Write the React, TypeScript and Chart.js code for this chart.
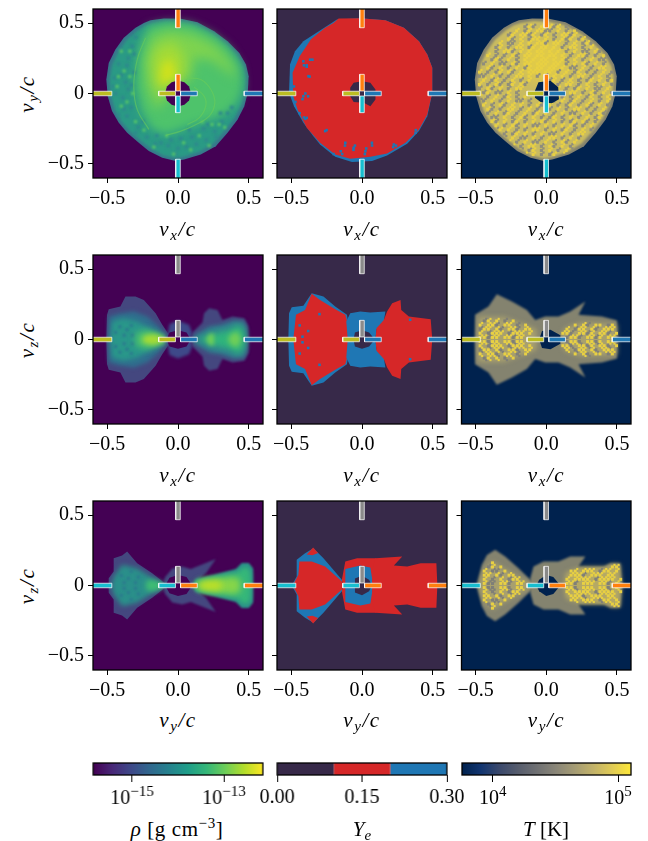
import React, { useEffect, useRef } from "react";
import { Chart, registerables } from "chart.js";

// Per-dataset softening so stacked density levels read as a smooth field.
const softLayers = {
  id: "softLayers",
  beforeDatasetDraw(chart: any, args: any) {
    const b = chart.data.datasets[args.index].blur;
    if (b) chart.ctx.filter = `blur(${b}px)`;
  },
  afterDatasetDraw(chart: any) {
    chart.ctx.filter = "none";
  },
};
Chart.register(softLayers, ...registerables);

type P = number[];
const FONT = "'Liberation Serif', serif";

// ---- axes
const axisRange = [-0.6, 0.6];
const panelTicks = [-0.5, 0, 0.5];
const xTickLabels = ["\u22120.5", "0.0", "0.5"];
const yTickLabels = ["\u22120.5", "0", "0.5"];
const rhoTickExps = [-15, -13];
const rhoRange = [-15.85, -12.15];
const yeTicks = [0, 0.15, 0.3];
const tempTickExps = [4, 5];
const tempRange = [3.754, 5.103];

// ---- palette
const viridisStops = ["#440154","#482878","#3e4989","#31688e","#26828e","#1f9e89","#35b779","#6ece58","#b5de2b","#fde725"];
const cividisStops = ["#00224e","#123570","#3b496c","#575d6d","#707173","#8a8678","#a59c74","#c3b369","#e1cc55","#fee838"];
const yeBands: number[][] = [[0, 0.1], [0.1, 0.2], [0.2, 0.3]];
const yeColors = ["#372949", "#d62728", "#1f77b4"];

// ---- marker arms along the axes
const armBands = [[0.018, 0.136], [0.467, 0.62]];
const armHalfWidth = 0.016;
const OLIVE = "#bcbd22", BLUE = "#1f77b4", ORANGE = "#ff7f0e", CYAN = "#17becf", GRAY = "#8a8a8a";

// ---- density, x-y plane
const rhoXYRim: P[] = [[-0.194,0.52],[-0.1,0.532],[0.02,0.53],[0.137,0.506],[0.255,0.442],[0.35,0.371],[0.433,0.288],[0.48,0.206],[0.499,0.123],[0.492,0.005],[0.468,-0.09],[0.421,-0.184],[0.35,-0.279],[0.267,-0.374],[0.161,-0.433],[0.043,-0.468],[-0.017,-0.48],[-0.111,-0.456],[-0.206,-0.409],[-0.277,-0.35],[-0.359,-0.279],[-0.418,-0.208],[-0.466,-0.125],[-0.496,-0.019],[-0.506,0.099],[-0.489,0.217],[-0.442,0.312],[-0.383,0.395],[-0.3,0.466],[-0.241,0.501]];
const rhoXYBody: P[] = [[-0.18,0.5],[-0.09,0.515],[0.02,0.51],[0.13,0.485],[0.245,0.425],[0.335,0.355],[0.415,0.275],[0.46,0.195],[0.478,0.12],[0.47,0.005],[0.445,-0.085],[0.4,-0.175],[0.33,-0.265],[0.25,-0.355],[0.15,-0.415],[0.04,-0.45],[-0.02,-0.46],[-0.105,-0.44],[-0.195,-0.39],[-0.265,-0.335],[-0.34,-0.27],[-0.4,-0.2],[-0.445,-0.12],[-0.475,-0.015],[-0.485,0.095],[-0.465,0.205],[-0.42,0.3],[-0.365,0.38],[-0.285,0.45],[-0.23,0.485]];
const rhoXYGreen: P[] = [[-0.206,0.478],[-0.076,0.506],[0.09,0.496],[0.243,0.423],[0.362,0.324],[0.444,0.194],[0.463,0.052],[0.421,-0.066],[0.326,-0.149],[0.232,-0.184],[0.113,-0.22],[-0.005,-0.267],[-0.099,-0.291],[-0.194,-0.243],[-0.265,-0.113],[-0.3,0.052],[-0.288,0.241],[-0.253,0.383]];
const rhoXYLight: P[] = [[-0.182,0.407],[-0.052,0.449],[0.113,0.418],[0.255,0.348],[0.374,0.217],[0.421,0.111],[0.35,0.158],[0.232,0.241],[0.113,0.253],[0.09,0.099],[0,0.087],[-0.087,-0.043],[-0.158,-0.113],[-0.217,0.052],[-0.229,0.241]];
const rhoXYBright: P[] = [[-0.158,0.312],[-0.04,0.371],[0.043,0.265],[0.043,0.111],[-0.052,0.099],[-0.111,0.005],[-0.165,0.076],[-0.182,0.217]];
const rhoXYCore: P[] = [[-0.111,0.217],[-0.04,0.241],[-0.005,0.099],[-0.071,0.092],[-0.104,0.04],[-0.128,0.111]];
const rhoXYHole: P[] = [[0.092,0],[0.078,0.05],[0.045,0.08],[0,0.092],[-0.045,0.08],[-0.078,0.05],[-0.092,0],[-0.078,-0.05],[-0.045,-0.08],[0,-0.092],[0.045,-0.08],[0.078,-0.05]];
const rhoXYArcs: P[][] = [
  [[0.066,0.111],[0.161,0.099],[0.232,0.028],[0.26,-0.066],[0.22,-0.161],[0.113,-0.227],[0.019,-0.267],[-0.087,-0.298]],
  [[0.113,0.047],[0.184,-0.019],[0.196,-0.09],[0.149,-0.173],[0.066,-0.22]],
  [[-0.229,0.395],[-0.288,0.241],[-0.312,0.052],[-0.288,-0.113],[-0.206,-0.255]],
];
const rhoXYDarkSpots: P[] = [[-0.324,0.336],[-0.31,0.28],[-0.36,0.2],[-0.42,0.21],[-0.4,0.13],[-0.45,0.11],[-0.37,0.08],[-0.35,0.03],[-0.44,0],[-0.39,-0.03],[-0.33,-0.1],[-0.38,-0.11],[-0.42,-0.15],[-0.31,0.15],[-0.35,0.25],[-0.3,0.4],[-0.12,-0.35],[-0.07,-0.37],[0,-0.39],[0.06,-0.38],[0.13,-0.36],[0.2,-0.33],[0.26,-0.27],[0.31,-0.2],[0.27,-0.31],[0.18,-0.25],[0.1,-0.31],[0.02,-0.32],[-0.05,-0.33],[-0.15,-0.3],[-0.22,-0.31],[-0.28,-0.24],[-0.3,-0.28],[0.35,-0.14],[0.38,-0.1],[0.3,-0.14],[-0.41,0.31],[-0.46,0.05],[-0.33,0.06],[-0.36,-0.16],[-0.25,-0.2],[0.08,-0.26],[0.21,-0.22],[-0.02,-0.43],[-0.16,-0.36]];
const rhoXYLightSpots: P[] = [[-0.4,0.3],[-0.43,0.05],[-0.36,-0.06],[-0.32,0],[-0.38,0.16],[-0.34,0.12],[-0.3,-0.2],[-0.17,-0.38],[-0.03,-0.43],[0.09,-0.4],[0.22,-0.37],[0.24,-0.22],[0.33,-0.24],[0.15,-0.3],[-0.08,-0.3],[-0.24,-0.26],[-0.34,0.3],[-0.42,0.12],[-0.4,-0.09],[0.04,-0.35],[0.17,-0.2],[0.29,-0.22]];

// ---- density, x-z plane (upper half, mirrored about z = 0)
const rhoXZLeft: P[] = [[-0.506,0],[-0.501,0.175],[-0.489,0.215],[-0.407,0.234],[-0.371,0.305],[-0.3,0.305],[-0.241,0.281],[-0.158,0.187],[-0.111,0.104],[-0.071,0.045],[-0.064,0]];
const rhoXZLeftMid: P[] = [[-0.489,0],[-0.489,0.163],[-0.407,0.187],[-0.312,0.199],[-0.217,0.163],[-0.135,0.092],[-0.087,0.033],[-0.08,0]];
const rhoXZLeftTeal: P[] = [[-0.478,0],[-0.466,0.128],[-0.383,0.151],[-0.288,0.128],[-0.182,0.069],[-0.099,0.017],[-0.087,0]];
const rhoXZLeftGreen: P[] = [[-0.3,0],[-0.3,0.045],[-0.217,0.069],[-0.123,0.033],[-0.08,0]];
const rhoXZLeftBright: P[] = [[-0.253,0],[-0.241,0.026],[-0.17,0.04],[-0.104,0.017],[-0.087,0]];
const rhoXZCentre: P[] = [[-0.08,0],[-0.06,0.11],[0,0.135],[0.078,0.104],[0.102,0.045],[0.09,0]];
const rhoXZHole: P[] = [[-0.08,0],[-0.06,0.05],[0,0.065],[0.06,0.05],[0.09,0]];
const rhoXZRight: P[] = [[0.09,0],[0.102,0.05],[0.173,0.121],[0.184,0.187],[0.22,0.222],[0.279,0.21],[0.314,0.139],[0.385,0.163],[0.468,0.151],[0.496,0.092],[0.499,0]];
const rhoXZRightMid: P[] = [[0.102,0],[0.125,0.033],[0.22,0.092],[0.303,0.104],[0.397,0.135],[0.468,0.128],[0.487,0.069],[0.487,0]];
const rhoXZRightGreen: P[] = [[0.125,0],[0.255,0.045],[0.362,0.069],[0.421,0.104],[0.463,0.08],[0.48,0]];
const rhoXZRightLight: P[] = [[0.35,0],[0.374,0.04],[0.421,0.057],[0.449,0]];
const rhoXZRightBand: P[] = [[0.196,0],[0.22,0.04],[0.255,0.04],[0.255,0]];
const rhoXZSpots: P[] = [[-0.36,0.07],[-0.33,0.1],[-0.38,0.03],[-0.32,0.03],[-0.41,0.09],[-0.44,0.05],[-0.36,-0.07],[-0.33,-0.1],[-0.38,-0.03],[-0.32,-0.03],[-0.41,-0.09],[-0.44,-0.05]];

// ---- density, y-z plane (upper half, mirrored)
const rhoYZLeft: P[] = [[-0.489,0],[-0.489,0.052],[-0.454,0.099],[-0.454,0.194],[-0.395,0.213],[-0.359,0.241],[-0.288,0.158],[-0.182,0.087],[-0.095,0.017],[-0.087,0]];
const rhoYZLeftTeal: P[] = [[-0.473,0],[-0.454,0.064],[-0.395,0.147],[-0.288,0.123],[-0.194,0.064],[-0.099,0.009],[-0.095,0]];
const rhoYZLeftGreen: P[] = [[-0.229,0],[-0.217,0.04],[-0.147,0.033],[-0.099,0.005],[-0.09,0]];
const rhoYZSpots: P[] = [[-0.35,0.05],[-0.3,0.02],[-0.28,0.06],[-0.33,0.1],[-0.38,0.02],[-0.4,0.07],[-0.35,-0.05],[-0.3,-0.02],[-0.28,-0.06],[-0.33,-0.1],[-0.38,-0.02],[-0.4,-0.07]];
const rhoYZWings: P[] = [[-0.1,0],[-0.095,0.055],[-0.04,0.12],[0.03,0.135],[0.09,0.118],[0.267,0.189],[0.2,0.09],[0.1,0]];
const rhoYZRightRim: P[] = [[0.1,0],[0.125,0.047],[0.255,0.076],[0.41,0.118],[0.45,0.16],[0.5,0.16],[0.53,0.12],[0.53,0]];
const rhoYZRightGreen: P[] = [[0.11,0],[0.14,0.04],[0.26,0.06],[0.41,0.09],[0.46,0.13],[0.5,0.13],[0.515,0.08],[0.515,0]];
const rhoYZRightLight: P[] = [[0.12,0],[0.16,0.035],[0.27,0.05],[0.4,0.06],[0.44,0.04],[0.44,0]];
const rhoYZRightBright: P[] = [[0.13,0],[0.19,0.03],[0.28,0.035],[0.32,0]];
const rhoYZHole: P[] = [[-0.09,0],[-0.06,0.055],[0,0.075],[0.06,0.06],[0.1,0]];

// ---- electron fraction
const yeXYBlue: P[] = [[-0.177,0.525],[-0.414,0.371],[-0.473,0.3],[-0.508,0.206],[-0.515,0.005],[-0.48,-0.09],[-0.414,-0.208],[-0.343,-0.303],[-0.296,-0.362],[-0.189,-0.449],[-0.071,-0.487],[0.071,-0.48],[0.177,-0.44],[0.319,-0.357],[0.402,-0.267],[0.461,-0.161],[0.496,0.005],[0.496,0.182],[0.461,0.277],[0.402,0.371],[0.296,0.466],[0.165,0.52],[-0.012,0.534]];
const yeXYRed: P[] = [[-0.165,0.532],[-0.012,0.534],[0.165,0.52],[0.296,0.466],[0.402,0.371],[0.461,0.277],[0.496,0.182],[0.496,0.005],[0.461,-0.149],[0.402,-0.255],[0.307,-0.35],[0.177,-0.426],[0.059,-0.449],[-0.083,-0.463],[-0.189,-0.433],[-0.296,-0.35],[-0.39,-0.243],[-0.455,-0.113],[-0.485,-0.019],[-0.49,0.147],[-0.44,0.265],[-0.36,0.385],[-0.26,0.466],[-0.201,0.501]];
const yeXYHole: P[] = [[-0.083,0.04],[-0.059,0.076],[0,0.087],[0.059,0.076],[0.095,0.028],[0.095,-0.043],[0.059,-0.09],[0.012,-0.066],[-0.059,-0.061],[-0.083,-0.019]];
const yeXYSpots: P[] = [[-0.414,0.229],[-0.378,0.123],[-0.414,-0.019],[-0.39,-0.173],[-0.26,-0.267],[-0.118,-0.35],[-0.059,-0.385],[0.024,-0.41],[0.071,-0.369],[0.225,-0.362],[0.378,-0.279],[-0.39,0.19],[-0.366,0.24],[-0.37,0.12],[-0.4,0],[-0.42,-0.04],[-0.38,-0.02],[-0.39,0.2],[-0.41,0.2],[-0.35,0.24],[-0.4,-0.18],[-0.41,-0.17],[-0.25,-0.26],[-0.12,-0.37],[-0.06,-0.4],[-0.05,-0.37],[0.03,-0.39],[0.02,-0.43],[0.07,-0.35],[0.22,-0.38],[0.24,-0.37],[0.38,-0.26],[-0.2,-0.43],[-0.15,-0.41],[-0.14,-0.43],[-0.49,0.18],[-0.47,0.25],[-0.44,0.29],[-0.48,0.05],[-0.47,-0.06],[-0.44,-0.14]];
const yeXZLeftBlue: P[] = [[-0.52,0],[-0.515,0.187],[-0.496,0.229],[-0.414,0.239],[-0.355,0.329],[-0.272,0.305],[-0.189,0.234],[-0.106,0.175],[-0.083,0.009],[-0.083,0]];
const yeXZLeftRed: P[] = [[-0.485,0],[-0.466,0.175],[-0.402,0.21],[-0.355,0.324],[-0.296,0.281],[-0.189,0.215],[-0.118,0.175],[-0.083,0.045],[-0.071,0]];
const yeXZCentreBlue: P[] = [[-0.102,0],[-0.102,0.017],[-0.111,0.128],[-0.083,0.187],[-0.012,0.199],[0.059,0.191],[0.165,0.199],[0.154,0.128],[0.102,0.069],[0.095,0]];
const yeXZHole: P[] = [[-0.06,0],[-0.05,0.05],[0,0.065],[0.05,0.05],[0.09,0]];
const yeXZRightRed: P[] = [[0.095,0],[0.102,0.08],[0.154,0.139],[0.177,0.199],[0.213,0.258],[0.272,0.281],[0.277,0.21],[0.331,0.163],[0.485,0.144],[0.496,0]];
const yeXZSpots: P[] = [[-0.44,0.1],[-0.42,0.02],[-0.44,-0.1],[-0.42,-0.02],[-0.38,0.06],[-0.38,-0.06],[-0.3,0.18],[-0.3,-0.18],[0.34,0.14],[0.34,-0.14]];
const yeYZLeftBlue: P[] = [[-0.496,0],[-0.461,0.064],[-0.461,0.182],[-0.402,0.229],[-0.343,0.265],[-0.272,0.194],[-0.142,0.04],[-0.135,0]];
const yeYZLeftRed: P[] = [[-0.489,0],[-0.449,0.076],[-0.442,0.17],[-0.355,0.17],[-0.26,0.135],[-0.142,0.028],[-0.135,0]];
const yeYZCap: P[] = [[-0.39,0.22],[-0.345,0.27],[-0.31,0.23],[-0.35,0.215]];
const yeYZCentreRed: P[] = [[-0.135,0],[-0.142,0.04],[-0.118,0.17],[-0.035,0.194],[0.1,0.194],[0.1,0]];
const yeYZCentreBlue: P[] = [[-0.118,0],[-0.118,0.118],[-0.012,0.142],[0.059,0.128],[0.071,0.052],[0.071,0]];
const yeYZHole: P[] = [[-0.05,0],[-0.05,0.05],[0,0.07],[0.05,0.04],[0.07,0]];
const yeYZRightRed: P[] = [[0.059,0],[0.071,0.111],[0.095,0.194],[0.284,0.206],[0.225,0.142],[0.319,0.135],[0.414,0.158],[0.525,0.158],[0.532,0]];

// ---- temperature
const tXYWarm: P[] = [[-0.12,0.36],[0.1,0.37],[0.17,0.16],[0.05,0.09],[-0.1,0.09],[-0.19,0.2]];
const tXYHole: P[] = [[-0.08,0.02],[-0.055,0.08],[0.03,0.09],[0.085,0.045],[0.09,-0.04],[0.04,-0.07],[-0.04,-0.06],[-0.08,-0.03]];
const tXYSpeckle = [
  "gyg.yyygy.g",
  "y.gy.yygg.y.g.y",
  "gy.yygy.gy.g.yygy.g",
  ".yg.y.gyy.y.g.ygy.gy.",
  "y.gg.y.y.yyg.yy.g.y.gyg",
  "gy.g.yy.gy.yy.y.g.yy.g.y.",
  ".g.yyg.y.y.yy.y.y.g.y.gg.yg",
  "y.g.g.yg.yy.yy.yy.y.g.yyg.g.y",
  ".gyg.y.g.y.y.yy.y.yg.y.g.y.gg",
  "g.y.gg.yg.yy.yyy.yy.g.y.yg.y.g.",
  ".yg.y.g.y.gy.yy.yy.y.gg.y.g.yy.",
  "y.g.gy.yg.y.yyy.yy.g.y.gy.g.g.y.g",
  "gg.y.g.g.yy.y.g.g.y.y.g.yy.g.y.g.",
  ".y.gy.g.y.g.y....gy.g.y.g.gy.y.gy",
  "y.g.yg.gy.yg.....y.g.yy.g.y.g.y.g",
  "g.yg.y.g.yy......g.y.g.gy.y.gg.y.",
  ".gy.gg.y.g........y.g.yy.g.yg.y.g",
  "y.g.y.gy.g.y.....g.yg.g.y.gy.g.yg",
  "gg.y.g.y.gg.g...y.g.y.gy.g.y.g.y.",
  ".y.g.yg.y.y.g.yg.y.g.gy.g.yg.y.g.",
  "g.yg.g.yy.g.y.g.yg.y.g.yy.g.g.y.g",
  ".g.y.gy.g.y.gy.y.g.y.gg.y.g.yg.",
  "y.gg.y.g.yg.y.g.gy.g.y.g.y.gy.g",
  ".yg.y.gy.g.y.yg.y.g.gy.yg.g.y",
  "g.y.g.yg.y.gg.y.g.y.yg.g.y.gg",
  ".gy.y.g.g.yy.g.y.gy.g.y.g.y",
  "y.g.gy.y.g.y.gg.y.g.yy.g.",
  ".yg.y.gg.y.g.yy.g.y.g.gy",
  "g.y.g.y.gg.y.g.yg.y.g.y",
  ".gy.g.yy.g.yg.y.g.yg",
  "y.g.gy.g.y.g.yg.y",
  "g.y.y.g.gy.y.g",
];
const tXZEnvelope: P[] = [[-0.504,0],[-0.504,0.175],[-0.409,0.234],[-0.35,0.321],[-0.243,0.269],[-0.137,0.21],[-0.078,0.139],[-0.007,0.163],[0.087,0.163],[0.17,0.199],[0.277,0.27],[0.229,0.175],[0.395,0.163],[0.501,0.135],[0.501,0]];
const tXZLeftCore: P[] = [[-0.49,0],[-0.48,0.16],[-0.3,0.16],[-0.07,0.075],[-0.07,0]];
const tXZRightCore: P[] = [[0.1,0],[0.13,0.08],[0.25,0.12],[0.5,0.11],[0.5,0]];
const tXZHole: P[] = [[-0.05,0],[-0.03,0.06],[0.03,0.07],[0.1,0.03],[0.1,0]];
const tXZSpeckle = [
  "....yygyy.yygyy.......yy.gyyg.yygy.yy....",
  "....y.gyyy.gyyy.y.......yyg.yygy.yyg.y...",
  "....gyy.yg.yyg.yy........y.gyy.yg.yyy....",
  "....y.yyg.yy.g.y.........g.y.yg.yy.gy....",
  ".....gy.y.g.yy.............y.g.y.y.g.y...",
  "....y..g.y..y...............y...g..y.....",
  "......y.......y.........................",
  ".........y................y..............",
];
const tYZEnvelopeLeft: P[] = [[-0.492,0],[-0.456,0.147],[-0.42,0.217],[-0.362,0.253],[-0.291,0.206],[-0.196,0.123],[-0.113,0.04],[-0.09,0]];
const tYZEnvelopeRight: P[] = [[-0.113,0],[-0.113,0.052],[-0.09,0.135],[-0.019,0.17],[0.087,0.17],[0.17,0.206],[0.277,0.206],[0.229,0.135],[0.407,0.135],[0.454,0.158],[0.525,0.158],[0.537,0]];
const tYZLeftCore: P[] = [[-0.48,0],[-0.44,0.12],[-0.38,0.17],[-0.3,0.12],[-0.12,0.02],[-0.09,0]];
const tYZRightCore: P[] = [[0.13,0],[0.14,0.09],[0.25,0.13],[0.43,0.13],[0.46,0.15],[0.52,0.15],[0.53,0]];
const tYZHole: P[] = [[-0.07,0],[-0.05,0.04],[0,0.075],[0.05,0.06],[0.1,0]];
const tYZSpeckle = [
  ".....ygg.yyg.yy........yyyyg.yyy.yyg.y...",
  ".....y.g.y.gyy.y.......yyy.yyyy.gyyyy.y..",
  "....gyy.yg.yy.g........yy.yyyg.yyy.yy.y..",
  ".....y.gg.yy.g..........y.yy.yyy.gyy.yy..",
  "......gy.yg..............g.yy.y.yyy.yyy..",
  ".......y.g.y................y.yy.g.y.gy...",
];

// ---- helpers that turn the lists above into Chart.js datasets
const closed = (pts: P[]) => [...pts, pts[0]].map(([x, y]) => ({ x, y }));
const mirrored = (top: P[]) => [...top, ...[...top].reverse().map(([x, y]) => [x, -y])];
const poly = (pts: P[], color: any, blur = 0) => ({
  data: closed(pts), showLine: true, fill: "shape", backgroundColor: color,
  borderColor: color, borderWidth: 0, pointRadius: 0, tension: 0, blur,
});
const mpoly = (top: P[], color: string, blur = 0) => poly(mirrored(top), color, blur);
const spots = (pts: P[], color: string, radius: number, blur = 0) => ({
  data: pts.map(([x, y]) => ({ x, y })), showLine: false, pointStyle: "rect",
  pointRadius: radius, pointBackgroundColor: color, pointBorderWidth: 0,
  backgroundColor: color, borderWidth: 0, blur,
});
const arc = (pts: P[], color: string, width: number) => ({
  data: pts.map(([x, y]) => ({ x, y })), showLine: true, fill: false, borderColor: color,
  borderWidth: width, pointRadius: 0, tension: 0.4, blur: 0.4,
});
const insidePoly = (pts: P[], x: number, y: number) => {
  let hit = false;
  for (let i = 0, j = pts.length - 1; i < pts.length; j = i++) {
    const [xi, yi] = pts[i], [xj, yj] = pts[j];
    if ((yi > y) !== (yj > y) && x < ((xj - xi) * (y - yi)) / (yj - yi) + xi) hit = !hit;
  }
  return hit;
};
const CELL = 1.2 / 41;
const speckleXY = (rows: string[], ch: string, shift: number, within: P[][]): P[] => {
  const out: P[] = [];
  rows.forEach((row, r) => {
    const y = (rows.length / 2 - r - 0.5 + shift) * CELL + 0.02;
    const off = Math.floor((41 - row.length) / 2);
    [...row].forEach((c, i) => {
      const x = -0.6 + (off + i + 0.5 + shift) * CELL - 0.005;
      if (c === ch && within.some((w) => insidePoly(w, x, y))) out.push([x, y]);
    });
  });
  return out;
};
const speckleMirror = (rows: string[], ch: string, shift: number, within: P[][]): P[] => {
  const out: P[] = [];
  rows.forEach((row, r) => {
    const y = (r + 0.5 + shift) * CELL;
    [...row].forEach((c, i) => {
      const x = -0.6 + (i + 0.5 + shift) * CELL;
      if (c === ch && within.some((w) => insidePoly(w, x, y))) out.push([x, y], [x, -y]);
    });
  });
  return out;
};
const arms = (left: string, right: string, up: string, down: string | null) => {
  const list: any[] = [];
  const w = armHalfWidth;
  const edge = "rgba(255,255,255,0.72)";
  const rect = (pts: P[], c: string) => ({
    data: closed(pts), showLine: true, fill: "shape", backgroundColor: c,
    borderColor: edge, borderWidth: 1, pointRadius: 0, tension: 0,
  });
  armBands.forEach(([a, b]) => {
    list.push(rect([[-b, -w], [-a, -w], [-a, w], [-b, w]], left));
    list.push(rect([[a, -w], [b, -w], [b, w], [a, w]], right));
    list.push(rect([[-w, a], [w, a], [w, b], [-w, b]], up));
    if (down) list.push(rect([[-w, -b], [w, -b], [w, -a], [-w, -a]], down));
  });
  return list;
};
const field = (color: string) => poly([[-0.6, -0.6], [0.6, -0.6], [0.6, 0.6], [-0.6, 0.6]], color);

const RHO0 = "#440154", YE0 = "#372949", T0 = "#00224e";
const RED = "#d62728", YBLUE = "#1f77b4";
const TGRAY = "#84836f", TBASE = "#c9bb60", TG2 = "#8f8d7c", TY = "#e8d043";

const armsXY = () => arms(OLIVE, BLUE, ORANGE, CYAN);
const armsXZ = () => arms(OLIVE, BLUE, GRAY, null);
const armsYZ = () => arms(CYAN, ORANGE, GRAY, null);

const tempSpeck = (rows: string[], fn: typeof speckleMirror, gray: string, within: P[][]) => [
  spots(fn(rows, "g", 0, within), gray, 2.2, 0.3), spots(fn(rows, "g", 0.5, within), gray, 1.6, 0.3),
  spots(fn(rows, "y", 0, within), TY, 2.1, 0.3), spots(fn(rows, "y", 0.5, within), TY, 1.5, 0.3),
];

const panelLayers: any[][] = [
  [
    field(RHO0), poly(rhoXYRim, "#38758c", 0.6), poly(rhoXYBody, "#2a9a85", 1.5), poly(rhoXYGreen, "#4ec36b", 5),
    spots(rhoXYDarkSpots, "#2e8a8c", 2.6, 1), spots(rhoXYLightSpots, "#56c667", 2.2, 0.8),
    poly(rhoXYLight, "#7ed34f", 6), poly(rhoXYBright, "#a5db36", 6), poly(rhoXYCore, "#cfe11c", 4),
    ...rhoXYArcs.map((a) => arc(a, "rgba(110,206,88,0.55)", 1.2)), poly(rhoXYHole, RHO0), ...armsXY(),
  ],
  [
    field(YE0), poly(yeXYBlue, YBLUE), poly(yeXYRed, RED), spots(yeXYSpots, YBLUE, 1.8),
    poly(yeXYHole, YE0), ...armsXY(),
  ],
  [
    field(T0), poly(rhoXYRim, TGRAY, 0.6), poly(rhoXYBody, TBASE, 1), poly(tXYWarm, "#e0ca48", 6),
    ...tempSpeck(tXYSpeckle, speckleXY, TG2, [rhoXYBody]),
    poly(tXYHole, T0), ...armsXY(),
  ],
  [
    field(RHO0), mpoly(rhoXZLeft, "#44477f", 0.6), mpoly(rhoXZLeftMid, "#2f6f8e", 2), mpoly(rhoXZLeftTeal, "#29978a", 2.5),
    spots(rhoXZSpots, "#2b7a8e", 2.2, 1), mpoly(rhoXZLeftGreen, "#4ac16d", 3), mpoly(rhoXZLeftBright, "#a5db36", 2.5),
    mpoly(rhoXZCentre, "#3e4989", 1.5), mpoly(rhoXZRight, "#44477f", 0.8), mpoly(rhoXZRightMid, "#2f7f8e", 2),
    mpoly(rhoXZRightGreen, "#2fb47c", 3), mpoly(rhoXZRightLight, "#6ece58", 2.5), mpoly(rhoXZRightBand, "#6ece58", 2),
    mpoly(rhoXZHole, RHO0), ...armsXZ(),
  ],
  [
    field(YE0), mpoly(yeXZLeftBlue, YBLUE), mpoly(yeXZLeftRed, RED), mpoly(yeXZCentreBlue, YBLUE),
    mpoly(yeXZRightRed, RED), spots(yeXZSpots, YBLUE, 1.8), mpoly(yeXZHole, YE0), ...armsXZ(),
  ],
  [
    field(T0), mpoly(tXZEnvelope, TGRAY, 0.8), mpoly(tXZLeftCore, "#a8a06e", 2.5), mpoly(tXZRightCore, "#a8a06e", 2.5),
    ...tempSpeck(tXZSpeckle, speckleMirror, "#7f7f78", [mirrored(tXZLeftCore), mirrored(tXZRightCore)]),
    mpoly(tXZHole, T0), ...armsXZ(),
  ],
  [
    field(RHO0), mpoly(rhoYZWings, "#44477f", 0.8), mpoly(rhoYZLeft, "#44477f", 0.6), mpoly(rhoYZLeftTeal, "#2a8f8a", 2.5),
    spots(rhoYZSpots, "#2b7a8e", 2.2, 1), mpoly(rhoYZLeftGreen, "#3fbc73", 2.5), mpoly(rhoYZRightRim, "#2a8f8a", 1),
    mpoly(rhoYZRightGreen, "#35b779", 2.5), mpoly(rhoYZRightLight, "#86d549", 3), mpoly(rhoYZRightBright, "#bddf26", 3),
    mpoly(rhoYZHole, RHO0), ...armsYZ(),
  ],
  [
    field(YE0), mpoly(yeYZLeftBlue, YBLUE), mpoly(yeYZLeftRed, RED), poly(yeYZCap, RED),
    poly(yeYZCap.map(([x, y]) => [x, -y]), RED), mpoly(yeYZCentreRed, RED), mpoly(yeYZRightRed, RED),
    mpoly(yeYZCentreBlue, YBLUE), mpoly(yeYZHole, YE0), ...armsYZ(),
  ],
  [
    field(T0), mpoly(tYZEnvelopeLeft, TGRAY, 0.8), mpoly(tYZEnvelopeRight, TGRAY, 0.8), mpoly(tYZLeftCore, "#a8a06e", 2.5),
    mpoly(tYZRightCore, "#b5a964", 2.5),
    ...tempSpeck(tYZSpeckle, speckleMirror, "#7f7f78", [mirrored(tYZLeftCore), mirrored(tYZRightCore)]),
    mpoly(tYZHole, T0), ...armsYZ(),
  ],
];

// ---- page geometry
const colLefts = [93, 277, 461.5];
const rowTops = [9, 255, 501];
const PANEL_W = 169.5, PANEL_H = 169;
const ML = 50, MR = 24, MT = 16, MB = 34;
const BAR_TOP = 763, BAR_H = 12, BAR_PAD = 34;

const frame = {
  id: "frame",
  afterDraw(chart: any) {
    const { ctx, chartArea: a } = chart;
    ctx.save();
    ctx.strokeStyle = "#000";
    ctx.lineWidth = 1.3;
    ctx.strokeRect(a.left, a.top, a.right - a.left, a.bottom - a.top);
    ctx.restore();
  },
};

const tickOpts = (labels: (v: number, i: number) => string, padding = 3) => ({
  display: true,
  color: "#000",
  font: { family: FONT, size: 20 },
  padding,
  maxRotation: 0,
  autoSkip: false,
  callback: (v: number, i: number) => labels(v, i),
});
const gridOpts = (length = 5) => ({
  display: true, drawOnChartArea: false, drawTicks: true, tickLength: length, tickColor: "#000", tickWidth: 1,
});

function panelChart(canvas: HTMLCanvasElement, idx: number) {
  const col = idx % 3;
  const leftGap = colLefts[col] - Math.floor(colLefts[col]) + ML;
  return new Chart(canvas, {
    type: "scatter",
    data: { datasets: [...panelLayers[idx]].reverse() },
    options: {
      animation: false, responsive: false, events: [],
      layout: { padding: { left: 0, right: MR, top: MT, bottom: 0 } },
      plugins: { legend: { display: false }, tooltip: { enabled: false } },
      scales: {
        x: {
          type: "linear", min: axisRange[0], max: axisRange[1],
          afterBuildTicks: (s: any) => { s.ticks = panelTicks.map((value) => ({ value })); },
          afterFit: (s: any) => { s.height = MB; },
          ticks: tickOpts((_v, i) => xTickLabels[i], 4),
          grid: gridOpts(), border: { display: false },
        },
        y: {
          type: "linear", min: axisRange[0], max: axisRange[1],
          afterBuildTicks: (s: any) => { s.ticks = panelTicks.map((value) => ({ value })); },
          afterFit: (s: any) => { s.width = leftGap; },
          ticks: tickOpts((_v, i) => (col === 0 ? yTickLabels[i] : ""), 4),
          grid: gridOpts(), border: { display: false },
        },
      },
    } as any,
    plugins: [frame],
  });
}

function gradientOf(canvas: HTMLCanvasElement, stops: string[]) {
  const g = canvas.getContext("2d")!.createLinearGradient(BAR_PAD, 0, BAR_PAD + PANEL_W, 0);
  stops.forEach((c, i) => g.addColorStop(i / (stops.length - 1), c));
  return g;
}

// Draws "10" with a raised exponent under each tick of a logarithmic colour bar.
const powerLabels = (exps: number[]) => ({
  id: "powerLabels",
  afterDraw(chart: any) {
    const { ctx, scales, chartArea } = chart;
    const y = chartArea.bottom + 29;
    ctx.save();
    ctx.fillStyle = "#000";
    ctx.textAlign = "left";
    ctx.textBaseline = "alphabetic";
    exps.forEach((e) => {
      const base = "10", power = String(e).replace("-", "\u2212");
      const px = scales.x.getPixelForValue(Math.pow(10, e));
      ctx.font = `20px ${FONT}`;
      const w1 = ctx.measureText(base).width;
      ctx.font = `15px ${FONT}`;
      const w2 = ctx.measureText(power).width;
      const left = px - (w1 + w2) / 2;
      ctx.font = `20px ${FONT}`;
      ctx.fillText(base, left, y);
      ctx.font = `15px ${FONT}`;
      ctx.fillText(power, left + w1, y - 8);
    });
    ctx.restore();
  },
});

function barChart(canvas: HTMLCanvasElement, idx: number) {
  const base = { animation: false, responsive: false, events: [],
    layout: { padding: { left: BAR_PAD, right: BAR_PAD, top: 2, bottom: 0 } },
    plugins: { legend: { display: false }, tooltip: { enabled: false } } };
  const yScale = { type: "linear", min: 0, max: 1, display: false };
  const xBase = {
    afterFit: (s: any) => { s.height = 36; },
    grid: gridOpts(7), border: { display: false },
  };
  const logBand = (r: number[], stops: string[]) => {
    const lo = Math.pow(10, r[0]), hi = Math.pow(10, r[1]);
    return poly([[lo, 0], [hi, 0], [hi, 1], [lo, 1]], gradientOf(canvas, stops));
  };
  let datasets: any[], x: any;
  const plugins: any[] = [frame];
  if (idx === 1) {
    datasets = yeBands.map(([a, b], i) => poly([[a, 0], [b, 0], [b, 1], [a, 1]], yeColors[i]));
    x = { ...xBase, type: "linear", min: 0, max: 0.3,
      afterBuildTicks: (s: any) => { s.ticks = yeTicks.map((value) => ({ value })); },
      ticks: tickOpts((v) => v.toFixed(2), 4) };
  } else {
    const r = idx === 0 ? rhoRange : tempRange;
    const exps = idx === 0 ? rhoTickExps : tempTickExps;
    datasets = [logBand(r, idx === 0 ? viridisStops : cividisStops)];
    plugins.push(powerLabels(exps));
    x = { ...xBase, type: "logarithmic", min: Math.pow(10, r[0]), max: Math.pow(10, r[1]),
      afterBuildTicks: (s: any) => { s.ticks = exps.map((e) => ({ value: Math.pow(10, e) })); },
      ticks: tickOpts(() => "", 4) };
  }
  return new Chart(canvas, {
    type: "scatter",
    data: { datasets },
    options: { ...base, scales: { x, y: yScale } } as any,
    plugins,
  });
}

const mathStyle: React.CSSProperties = {
  position: "absolute", fontFamily: FONT, fontSize: 21, lineHeight: 1, whiteSpace: "nowrap", color: "#000",
};
const subStyle: React.CSSProperties = { fontSize: 15, verticalAlign: "-4px", lineHeight: 0 };
const supStyle: React.CSSProperties = { fontSize: 15, verticalAlign: "8px", lineHeight: 0 };

const xAxisNames = ["x", "x", "y"];
const yAxisNames = ["y", "z", "z"];
const xLabelCentres = [229, 475, 720];

function VLabel({ s }: { s: string }) {
  return <i style={{ letterSpacing: 1.6 }}>v<span style={subStyle}>{s}</span>/c</i>;
}

export default function App() {
  const panels = useRef<(HTMLCanvasElement | null)[]>([]);
  const bars = useRef<(HTMLCanvasElement | null)[]>([]);
  useEffect(() => {
    const charts = [
      ...panels.current.map((c, i) => panelChart(c!, i)),
      ...bars.current.map((c, i) => barChart(c!, i)),
    ];
    return () => charts.forEach((c) => c.destroy());
  }, []);
  return (
    <div style={{ position: "absolute", left: 0, top: 0, width: 648, height: 841, overflow: "hidden", background: "#fff" }}>
      {panelLayers.map((_, i) => {
        const col = i % 3, row = Math.floor(i / 3);
        const left = Math.floor(colLefts[col]) - ML;
        return (
          <canvas key={i} ref={(el) => { panels.current[i] = el; }}
            width={ML + 170 + MR} height={MT + PANEL_H + MB}
            style={{ position: "absolute", left, top: rowTops[row] - MT, width: ML + 170 + MR, height: MT + PANEL_H + MB }} />
        );
      })}
      {colLefts.map((l, i) => (
        <canvas key={i} ref={(el) => { bars.current[i] = el; }}
          width={PANEL_W + 2 * BAR_PAD} height={2 + BAR_H + 36}
          style={{ position: "absolute", left: l - BAR_PAD, top: BAR_TOP - 2, width: PANEL_W + 2 * BAR_PAD, height: 2 + BAR_H + 36 }} />
      ))}
      {rowTops.map((t, r) => (
        <React.Fragment key={r}>
          <div style={{ ...mathStyle, left: 27, top: t + 85, transform: "translate(-50%,-50%) rotate(-90deg)" }}><VLabel s={yAxisNames[r]} /></div>
          {colLefts.map((l, c) => (
            <div key={c} style={{ ...mathStyle, left: l + 85, top: xLabelCentres[r], transform: "translate(-50%,-50%)" }}><VLabel s={xAxisNames[r]} /></div>
          ))}
        </React.Fragment>
      ))}
      <div style={{ ...mathStyle, letterSpacing: 0.6, left: 177, top: 829, transform: "translate(-50%,-50%)" }}><i>ρ</i> [g cm<span style={supStyle}>−3</span>]</div>
      <div style={{ ...mathStyle, left: 362, top: 829, transform: "translate(-50%,-50%)" }}><i>Y<span style={subStyle}>e</span></i></div>
      <div style={{ ...mathStyle, left: 546, top: 829, transform: "translate(-50%,-50%)" }}><i>T</i> [K]</div>
    </div>
  );
}
